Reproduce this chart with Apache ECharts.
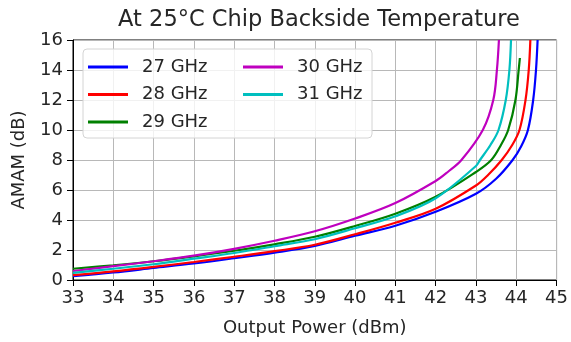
<!DOCTYPE html>
<html>
<head>
<meta charset="utf-8">
<script src="https://cdn.jsdelivr.net/npm/echarts@6/dist/echarts.min.js"></script>
<style>
  html, body { margin: 0; padding: 0; background: #fff; }
  #chart { width: 571px; height: 342px; }
</style>
</head>
<body>
<div id="chart"></div>
<script>
// AM/AM compression versus output power, one curve per frequency
const seriesNames = ['27 GHz', '28 GHz', '29 GHz', '30 GHz', '31 GHz'];
const seriesColors = ['#0000ff', '#ff0000', '#008000', '#bf00bf', '#00bfbf'];

const pout27 = [33, 34, 35, 36, 37, 38, 39, 40, 41, 42, 43, 43.5, 43.91, 44.12, 44.29, 44.42, 44.49, 44.53];
const amam27 = [0.25, 0.5, 0.8, 1.1, 1.45, 1.82, 2.27, 2.95, 3.62, 4.55, 5.75, 6.75, 8.0, 8.9, 10.0, 12.0, 14.0, 16.0];

const pout28 = [33, 34, 35, 36, 37, 38, 39, 40, 41, 42, 43, 43.3, 43.64, 43.9, 44.08, 44.23, 44.31, 44.35];
const amam28 = [0.32, 0.57, 0.87, 1.2, 1.55, 1.92, 2.35, 3.05, 3.82, 4.75, 6.3, 7.0, 8.0, 9.0, 10.0, 12.0, 14.0, 16.0];

const pout29 = [33, 34, 35, 36, 37, 38, 39, 40, 41, 42, 43, 43.38, 43.62, 43.8, 43.98, 44.06, 44.09];
const amam29 = [0.75, 0.98, 1.25, 1.58, 1.95, 2.38, 2.88, 3.6, 4.42, 5.55, 7.2, 8.0, 9.0, 10.0, 12.0, 14.0, 14.8];

const pout30 = [33, 34, 35, 36, 37, 38, 39, 40, 41, 42, 42.3, 42.64, 43.17, 43.43, 43.52, 43.57];
const amam30 = [0.6, 0.92, 1.25, 1.62, 2.08, 2.62, 3.25, 4.1, 5.13, 6.6, 7.2, 8.0, 10.0, 12.0, 14.0, 16.0];

const pout31 = [33, 34, 35, 36, 37, 38, 39, 40, 41, 42, 43, 43.1, 43.36, 43.56, 43.74, 43.83, 43.87];
const amam31 = [0.48, 0.75, 1.05, 1.42, 1.8, 2.25, 2.72, 3.45, 4.25, 5.45, 7.6, 8.0, 9.0, 10.0, 12.0, 14.0, 16.0];

const xTicks = [33, 45, 1];   // min, max, step (dBm)
const yTicks = [0, 16, 2];    // min, max, step (dB)

const FONT = 'DejaVu Sans';
const pairs = (xs, ys) => xs.map((x, i) => [x, ys[i]]);
const curves = [
  pairs(pout27, amam27),
  pairs(pout28, amam28),
  pairs(pout29, amam29),
  pairs(pout30, amam30),
  pairs(pout31, amam31)
];

const chart = echarts.init(document.getElementById('chart'), null, { renderer: 'canvas' });

const legendCommon = {
  orient: 'vertical',
  top: 53,
  itemWidth: 40,
  itemHeight: 3,
  itemGap: 9.5,
  icon: 'rect',
  z: 6,
  textStyle: { fontFamily: FONT, fontSize: 18, color: '#262626', lineHeight: 18, padding: [0, 0, 0, 9] }
};

chart.setOption({
  animation: false,
  color: seriesColors,
  title: {
    text: 'At 25°C Chip Backside Temperature',
    left: 314,
    textAlign: 'center',
    top: 4,
    textStyle: { fontFamily: FONT, fontSize: 22.5, fontWeight: 'normal', color: '#262626' }
  },
  legend: [
    Object.assign({ left: 83, data: seriesNames.slice(0, 3) }, legendCommon),
    Object.assign({ left: 238, data: seriesNames.slice(3) }, legendCommon)
  ],
  graphic: [{
    type: 'rect',
    z: 5,
    shape: { x: 83, y: 49, width: 289, height: 89, r: 4 },
    style: { fill: 'rgba(255,255,255,0.8)', stroke: '#d4d4d4', lineWidth: 1 }
  }],
  grid: {
    left: 73, right: 10, top: 40, bottom: 62,
    show: true, borderColor: '#000', borderWidth: 1, backgroundColor: 'transparent'
  },
  xAxis: {
    type: 'value',
    min: xTicks[0], max: xTicks[1], interval: xTicks[2],
    name: 'Output Power (dBm)',
    nameLocation: 'middle',
    nameGap: 39,
    nameTextStyle: { fontFamily: FONT, fontSize: 18, color: '#262626' },
    axisLine: { show: true, onZero: false, lineStyle: { color: '#000', width: 1 } },
    axisTick: { show: true, inside: false, length: 6, lineStyle: { color: '#000' } },
    axisLabel: { fontFamily: FONT, fontSize: 18, color: '#262626', margin: 9 },
    splitLine: { show: true, lineStyle: { color: '#b8b8b8', width: 1 } }
  },
  yAxis: {
    type: 'value',
    min: yTicks[0], max: yTicks[1], interval: yTicks[2],
    name: 'AMAM (dB)',
    nameLocation: 'middle',
    nameGap: 45,
    nameTextStyle: { fontFamily: FONT, fontSize: 18, color: '#262626' },
    axisLine: { show: true, onZero: false, lineStyle: { color: '#000', width: 1 } },
    axisTick: { show: true, inside: false, length: 6, lineStyle: { color: '#000' } },
    axisLabel: { fontFamily: FONT, fontSize: 18, color: '#262626', margin: 10 },
    splitLine: { show: true, lineStyle: { color: '#b8b8b8', width: 1 } }
  },
  series: seriesNames.map((name, i) => ({
    name: name,
    type: 'line',
    data: curves[i],
    showSymbol: false,
    smooth: 0.35,
    clip: true,
    lineStyle: { width: 2.2, color: seriesColors[i] },
    itemStyle: { color: seriesColors[i] }
  }))
});
</script>
</body>
</html>
